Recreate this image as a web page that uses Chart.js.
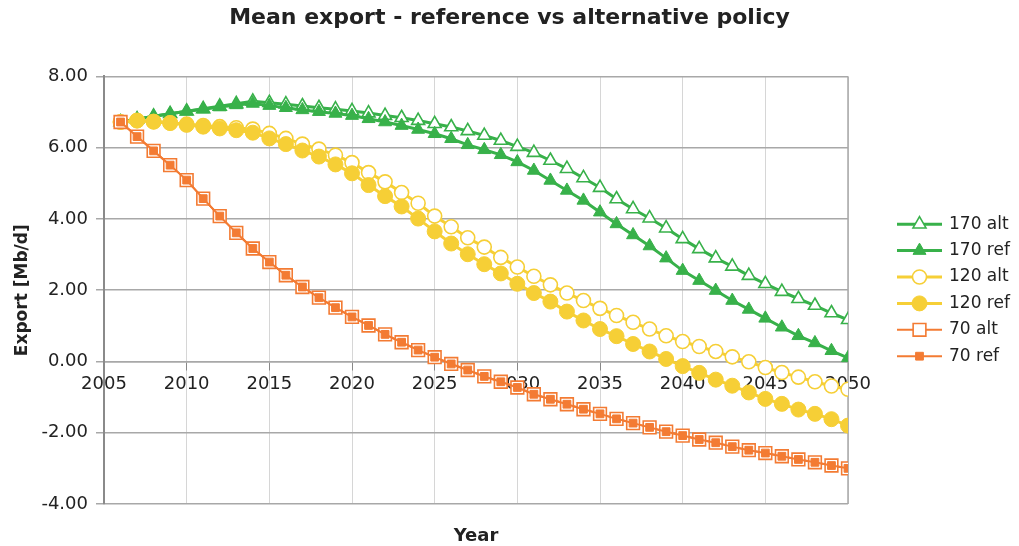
<!DOCTYPE html>
<html>
<head>
<meta charset="utf-8">
<script src="https://cdn.jsdelivr.net/npm/chart.js@4.4.1/dist/chart.umd.min.js"></script>
<style>
html,body{margin:0;padding:0;background:#fff}
</style>
</head>
<body>
<canvas id="c" width="1019" height="546"></canvas>
<script>
const years=[2006,2007,2008,2009,2010,2011,2012,2013,2014,2015,2016,2017,2018,2019,2020,2021,2022,2023,2024,2025,2026,2027,2028,2029,2030,2031,2032,2033,2034,2035,2036,2037,2038,2039,2040,2041,2042,2043,2044,2045,2046,2047,2048,2049,2050];
const alt170=[6.72,6.80,6.88,6.95,7.02,7.09,7.16,7.23,7.30,7.26,7.22,7.17,7.12,7.08,7.03,6.97,6.90,6.84,6.76,6.67,6.58,6.47,6.34,6.20,6.03,5.86,5.64,5.41,5.15,4.88,4.56,4.28,4.02,3.74,3.44,3.16,2.90,2.67,2.41,2.18,1.96,1.76,1.57,1.36,1.17];
const ref170=[6.72,6.80,6.88,6.95,7.02,7.08,7.14,7.20,7.24,7.18,7.12,7.06,7.01,6.96,6.90,6.81,6.72,6.62,6.51,6.39,6.25,6.08,5.94,5.80,5.60,5.36,5.08,4.80,4.52,4.19,3.86,3.55,3.24,2.90,2.55,2.27,1.99,1.71,1.46,1.21,0.96,0.72,0.52,0.30,0.10];
const alt120=[6.72,6.76,6.73,6.70,6.66,6.62,6.59,6.56,6.52,6.40,6.26,6.10,5.96,5.79,5.58,5.30,5.04,4.74,4.44,4.08,3.78,3.47,3.21,2.92,2.65,2.39,2.15,1.92,1.71,1.49,1.29,1.10,0.91,0.72,0.56,0.42,0.28,0.13,-0.01,-0.17,-0.31,-0.44,-0.57,-0.69,-0.78];
const ref120=[6.72,6.76,6.73,6.69,6.64,6.59,6.54,6.49,6.42,6.26,6.10,5.92,5.75,5.53,5.28,4.95,4.64,4.35,4.01,3.65,3.31,3.01,2.73,2.47,2.18,1.92,1.68,1.40,1.15,0.91,0.71,0.49,0.28,0.07,-0.13,-0.32,-0.51,-0.68,-0.87,-1.05,-1.19,-1.35,-1.47,-1.62,-1.80];
const alt70=[6.72,6.31,5.91,5.51,5.09,4.57,4.08,3.61,3.17,2.79,2.42,2.09,1.79,1.51,1.25,1.01,0.76,0.54,0.32,0.12,-0.07,-0.24,-0.42,-0.57,-0.73,-0.92,-1.06,-1.20,-1.34,-1.47,-1.61,-1.73,-1.85,-1.97,-2.08,-2.19,-2.28,-2.39,-2.49,-2.57,-2.66,-2.75,-2.83,-2.92,-3.00];
const ref70=[6.72,6.31,5.91,5.51,5.09,4.57,4.08,3.61,3.17,2.79,2.42,2.09,1.79,1.51,1.25,1.01,0.76,0.54,0.32,0.12,-0.07,-0.24,-0.42,-0.57,-0.73,-0.92,-1.06,-1.20,-1.34,-1.47,-1.61,-1.73,-1.85,-1.97,-2.08,-2.19,-2.28,-2.39,-2.49,-2.57,-2.66,-2.75,-2.83,-2.92,-3.00];
const seriesNames=['170 alt','170 ref','120 alt','120 ref','70 alt','70 ref'];
const xTicks=[2005,2050,5];
const yTicks=[-4,8,2];

const GREEN='#38b14a',YELLOW='#f6cf36',ORANGE='#f37b33';
const FONT='"DejaVu Sans", Verdana, sans-serif';

const pts=v=>years.map((yr,i)=>({x:yr,y:v[i]}));
function ds(label,vals,color,style,radius,hollow,lw,order){
  return {label:label,data:pts(vals),borderColor:color,borderWidth:lw,
    pointStyle:style,pointRadius:radius,pointBorderColor:color,pointBorderWidth:hollow?1.6:1,
    pointBackgroundColor:hollow?'#ffffff':color,pointHoverRadius:radius,
    tension:0,fill:false,order:order};
}

function marker(ctx,style,x,y,r,bg,fg,bw){
  ctx.beginPath();
  if(style==='triangle'){
    let a=0;
    ctx.moveTo(x+Math.sin(a)*r,y-Math.cos(a)*r);
    a+=Math.PI*2/3;ctx.lineTo(x+Math.sin(a)*r,y-Math.cos(a)*r);
    a+=Math.PI*2/3;ctx.lineTo(x+Math.sin(a)*r,y-Math.cos(a)*r);
    ctx.closePath();
  }else if(style==='circle'){
    ctx.arc(x,y,r,0,Math.PI*2);
  }else{
    const s=Math.SQRT1_2*r;ctx.rect(x-s,y-s,2*s,2*s);
  }
  ctx.fillStyle=bg;ctx.fill();
  ctx.lineWidth=bw;ctx.strokeStyle=fg;ctx.stroke();
}

// legend on the right: line + marker + name, like the spreadsheet one
const sideLegend={id:'sideLegend',afterDraw(chart){
  const {ctx,chartArea:a}=chart;
  const list=chart.data.datasets;
  const gap=26.4,mid=(a.top+a.bottom)/2;
  ctx.save();
  list.forEach((d,i)=>{
    const y=mid+(i-(list.length-1)/2)*gap;
    const x0=a.right+49,x1=a.right+94;
    ctx.strokeStyle=d.borderColor;ctx.lineWidth=d.borderWidth;
    ctx.beginPath();ctx.moveTo(x0,y);ctx.lineTo(x1,y);ctx.stroke();
    marker(ctx,d.pointStyle,(x0+x1)/2,y,d.pointRadius,d.pointBackgroundColor,d.borderColor,d.pointBorderWidth);
    ctx.fillStyle='#222';ctx.font='17px '+FONT;ctx.textBaseline='middle';ctx.textAlign='left';
    ctx.fillText(d.label,a.right+101,y);
  });
  // x axis title, centred under the plot
  ctx.fillStyle='#222';ctx.font='bold 18px '+FONT;ctx.textAlign='center';ctx.textBaseline='middle';
  ctx.fillText('Year',(a.left+a.right)/2,a.bottom+32);
  ctx.restore();
}};
const frame={id:'frame',beforeDatasetsDraw(chart){
  const {ctx,chartArea:a}=chart;
  ctx.save();ctx.strokeStyle='#a8a8a8';ctx.lineWidth=1.5;
  ctx.beginPath();ctx.moveTo(a.right,a.top);ctx.lineTo(a.right,a.bottom);ctx.stroke();
  ctx.restore();
}};

new Chart(document.getElementById('c'),{
  type:'line',
  data:{datasets:[
    ds(seriesNames[0],alt170,GREEN,'triangle',7.5,true,3,6),
    ds(seriesNames[1],ref170,GREEN,'triangle',7.5,false,3,5),
    ds(seriesNames[2],alt120,YELLOW,'circle',7,true,3,4),
    ds(seriesNames[3],ref120,YELLOW,'circle',7.5,false,3,3),
    ds(seriesNames[4],alt70,ORANGE,'rect',9,true,2,2),
    ds(seriesNames[5],ref70,ORANGE,'rect',5.5,false,2,1)
  ]},
  options:{
    responsive:false,animation:false,
    events:[],
    layout:{padding:{left:0,right:0,top:0,bottom:42}},
    plugins:{
      legend:{display:false},
      tooltip:{enabled:false},
      title:{display:true,text:'Mean export - reference vs alternative policy',color:'#222',
        font:{family:FONT,size:22,weight:'bold'},padding:{top:5,bottom:45}}
    },
    scales:{
      x:{type:'linear',position:{y:0},min:xTicks[0],max:xTicks[1],
        afterFit(s){s.height=0;},
        ticks:{stepSize:xTicks[2],color:'#222',font:{family:FONT,size:18},padding:4,
          maxRotation:0,callback:v=>String(v)},
        grid:{color:'#d6d6d6',lineWidth:1,tickLength:8,tickColor:'#888'},
        border:{color:'#a8a8a8',width:1.5}},
      y:{min:yTicks[0],max:yTicks[1],
        afterFit(s){s.width=104;},
        ticks:{stepSize:yTicks[2],color:'#222',font:{family:FONT,size:18},padding:8,
          callback:v=>v.toFixed(2)},
        grid:{color:'#a8a8a8',lineWidth:1.5,tickLength:8},
        border:{color:'#8a8a8a',width:2},
        title:{display:true,text:'Export [Mb/d]',color:'#222',
          font:{family:FONT,size:17,weight:'bold'},padding:{top:12,bottom:0}}},
      // empty right-hand box that keeps room for the legend
      side:{position:'right',display:true,afterFit(s){s.width=171;},
        ticks:{display:false},grid:{display:false},border:{display:false}}
    }
  },
  plugins:[frame,sideLegend]
});
</script>
</body>
</html>
